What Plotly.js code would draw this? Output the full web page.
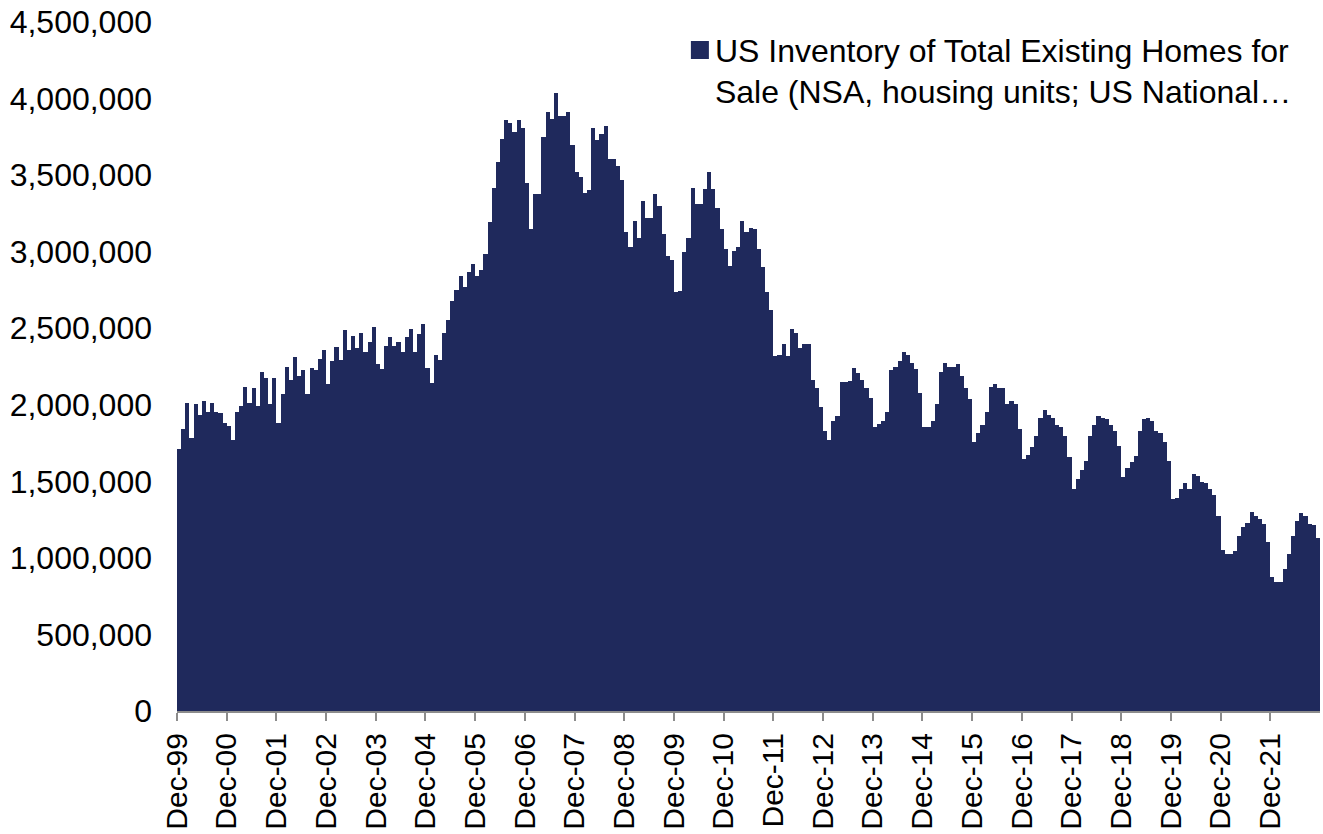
<!DOCTYPE html>
<html>
<head>
<meta charset="utf-8">
<script src="https://cdn.plot.ly/plotly-3.0.1.min.js"></script>
<style>
html,body{margin:0;padding:0;background:#ffffff;}
#chart{width:1323px;height:834px;}
#chart .bars path{shape-rendering:crispEdges !important;}
</style>
</head>
<body>
<div id="chart"></div>
<script>
// Monthly categories: Dec-99 ... Nov-22
const monthNames = ["Jan","Feb","Mar","Apr","May","Jun","Jul","Aug","Sep","Oct","Nov","Dec"];
const months = [];
for (let i = 0; i < 276; i++) {
  const k = 11 + i;
  const yr = 1999 + Math.floor(k / 12);
  months.push(monthNames[k % 12] + "-" + String(yr % 100).padStart(2, "0"));
}

// US inventory of total existing homes for sale (housing units)
const inventory = [
  1710000,
  1845000,2011000,1786000,2006000,1935000,2024000,1952000,2011000,1952000,1946000,1880000,1863000,
  1773000,1956000,1995000,2116000,2013000,2109000,1995000,2214000,2172000,2005000,2172000,1882000,
  2072000,2244000,2163000,2314000,2185000,2229000,2072000,2240000,2224000,2296000,2360000,2135000,
  2283000,2375000,2294000,2486000,2361000,2451000,2368000,2469000,2342000,2407000,2505000,2266000,
  2231000,2384000,2440000,2384000,2412000,2344000,2440000,2497000,2348000,2462000,2525000,2240000,
  2144000,2325000,2292000,2471000,2551000,2675000,2752000,2839000,2769000,2865000,2922000,2841000,
  2880000,2987000,3196000,3414000,3588000,3737000,3861000,3843000,3784000,3861000,3808000,3449000,
  3148000,3379000,3379000,3750000,3909000,3869000,4039000,3889000,3889000,3909000,3699000,3518000,
  3488000,3380000,3400000,3808000,3732000,3769000,3824000,3606000,3606000,3558000,3471000,3129000,
  3028000,3201000,3090000,3329000,3220000,3220000,3379000,3299000,3116000,2969000,2948000,2737000,
  2745000,2998000,3090000,3416000,3312000,3312000,3410000,3518000,3410000,3288000,3150000,3020000,
  2909000,3007000,3028000,3198000,3129000,3157000,3148000,3020000,2897000,2739000,2619000,2318000,
  2325000,2397000,2318000,2497000,2466000,2368000,2397000,2397000,2165000,2107000,1987000,1826000,
  1767000,1895000,1926000,2148000,2148000,2155000,2237000,2207000,2165000,2107000,2044000,1856000,
  1876000,1895000,1956000,2227000,2244000,2286000,2344000,2325000,2276000,2235000,2076000,1856000,
  1856000,1895000,2005000,2216000,2276000,2246000,2250000,2266000,2185000,2107000,2035000,1756000,
  1815000,1865000,1956000,2113000,2135000,2107000,2107000,2007000,2026000,2007000,1845000,1645000,
  1673000,1724000,1793000,1915000,1963000,1935000,1915000,1867000,1854000,1793000,1662000,1453000,
  1514000,1573000,1634000,1795000,1865000,1924000,1915000,1904000,1870000,1830000,1734000,1527000,
  1584000,1627000,1665000,1826000,1904000,1913000,1895000,1826000,1815000,1760000,1636000,1386000,
  1394000,1453000,1486000,1453000,1547000,1536000,1495000,1486000,1451000,1414000,1273000,1054000,
  1024000,1024000,1044000,1144000,1201000,1231000,1303000,1275000,1253000,1222000,1103000,874000,
  843000,843000,926000,1024000,1144000,1244000,1294000,1275000,1222000,1214000,1133000
];

// Axis tick labels (one per December)
const tickLabels = ["Dec-99","Dec-00","Dec-01","Dec-02","Dec-03","Dec-04","Dec-05","Dec-06",
  "Dec-07","Dec-08","Dec-09","Dec-10","Dec-11","Dec-12","Dec-13","Dec-14","Dec-15","Dec-16",
  "Dec-17","Dec-18","Dec-19","Dec-20","Dec-21"];
const yTicks = [0,500000,1000000,1500000,2000000,2500000,3000000,3500000,4000000,4500000];

const seriesName = "US Inventory of Total Existing Homes for<br>Sale (NSA, housing units; US National\u2026";
const barColor = "#1f295c";

const xIdx = months.map((m, i) => i);
// ticks sit on the left edge of each December bar
const tickVals = tickLabels.map(l => months.indexOf(l) - 0.5);

const trace = {
  type: "bar",
  x: xIdx,
  y: inventory,
  text: months,
  hovertemplate: "%{text}: %{y:,}<extra></extra>",
  textposition: "none",
  name: seriesName,
  showlegend: true,
  marker: {color: barColor, line: {width: 0}}
};

const fontFam = '"Liberation Sans", Arial, Helvetica, sans-serif';

const layout = {
  width: 1323,
  height: 834,
  margin: {l: 177, r: 3, t: 22, b: 123, pad: 0},
  paper_bgcolor: "#ffffff",
  plot_bgcolor: "#ffffff",
  font: {family: fontFam, size: 32, color: "#000000"},
  bargap: 0,
  showlegend: true,
  legend: {
    x: 0.4356, xanchor: "left", y: 1.0004, yanchor: "top",
    font: {family: fontFam, size: 32, color: "#000000"},
    bgcolor: "rgba(0,0,0,0)", borderwidth: 0, valign: "top"
  },
  xaxis: {
    range: [-0.5, xIdx.length - 0.5],
    tickmode: "array",
    tickvals: tickVals,
    ticktext: tickLabels,
    tickangle: -90,
    ticks: "outside",
    ticklen: 8,
    tickwidth: 2,
    tickcolor: "#8c8c8c",
    showline: true,
    linecolor: "#8c8c8c",
    linewidth: 2,
    showgrid: false,
    zeroline: false,
    tickfont: {family: fontFam, size: 30, color: "#000000"}
  },
  yaxis: {
    range: [0, 4500000],
    tickmode: "array",
    tickvals: yTicks,
    ticktext: yTicks.map(v => v.toLocaleString("en-US")),
    showgrid: false,
    zeroline: false,
    showline: false,
    ticks: "",
    ticklabelstandoff: 24,
    tickfont: {family: fontFam, size: 32, color: "#000000"}
  }
};

function enlargeLegendSymbol() {
  // Legend key in the reference is a larger square sitting close to its text
  document.querySelectorAll("#chart .legend .legendpoints path").forEach(p => {
    p.setAttribute("d", "M14,10H-4V-8H14Z");
  });
}

Plotly.newPlot("chart", [trace], layout, {displayModeBar: false, responsive: false})
  .then(gd => { enlargeLegendSymbol(); gd.on("plotly_afterplot", enlargeLegendSymbol); });
</script>
</body>
</html>
